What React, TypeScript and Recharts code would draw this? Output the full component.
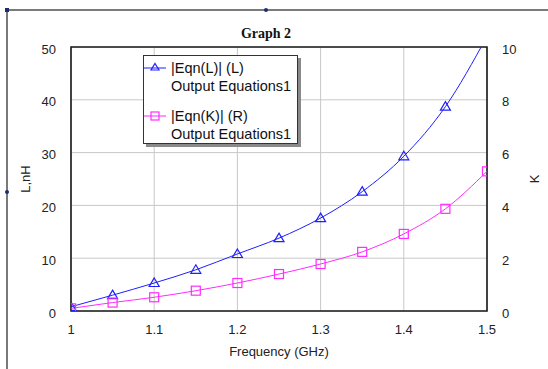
import React from 'react';
import {
  LineChart,
  Line,
  XAxis,
  YAxis,
  CartesianGrid,
  Legend,
  Label,
  ReferenceArea,
} from 'recharts';

const frequency = [1, 1.05, 1.1, 1.15, 1.2, 1.25, 1.3, 1.35, 1.4, 1.45, 1.5];
const lValues = [0.8, 3.0, 5.3, 7.8, 10.8, 13.8, 17.6, 22.6, 29.3, 38.7, 52.0];
const kValues = [0.1, 0.32, 0.52, 0.77, 1.06, 1.4, 1.78, 2.24, 2.92, 3.87, 5.29];
const xTicks = [1, 1.1, 1.2, 1.3, 1.4, 1.5];
const leftTicks = [0, 10, 20, 30, 40, 50];
const rightTicks = [0, 2, 4, 6, 8, 10];

const BLUE = '#1f1fff';
const MAGENTA = '#ff2bff';
const FONT = '"Liberation Sans", Arial, sans-serif';

const data = frequency.map((f, i) => ({ f, L: lValues[i], K: kValues[i] }));

const Triangle = (props: any) => {
  const { cx, cy } = props;
  if (cx == null || cy == null) return null;
  return (
    <path
      d={`M${cx},${cy - 5}L${cx + 5},${cy + 3.5}L${cx - 5},${cy + 3.5}Z`}
      fill="none"
      stroke={BLUE}
      strokeWidth={1.2}
    />
  );
};

const Square = (props: any) => {
  const { cx, cy } = props;
  if (cx == null || cy == null) return null;
  return (
    <rect x={cx - 4.5} y={cy - 4.5} width={9} height={9} fill="none" stroke={MAGENTA} strokeWidth={1.2} />
  );
};

const LegendBox = () => (
  <div
    style={{
      width: 155,
      height: 89,
      boxSizing: 'border-box',
      border: '1px solid #333',
      background: '#fff',
      boxShadow: '3px 3px 0 #8a8a8a',
      fontFamily: FONT,
      fontSize: 14.5,
      color: '#111',
      position: 'relative',
    }}
  >
    {[
      { name: '|Eqn(L)| (L)', color: BLUE, top: 3, icon: 'tri' },
      { name: '|Eqn(K)| (R)', color: MAGENTA, top: 51, icon: 'sq' },
    ].map((e) => (
      <div key={e.name} style={{ position: 'absolute', left: 0, top: e.top }}>
        <svg width={24} height={18} style={{ position: 'absolute', left: 0, top: 0 }}>
          <line x1={0} y1={9} x2={22} y2={9} stroke={e.color} strokeWidth={1} />
          {e.icon === 'tri' ? (
            <path d="M11,4.5L15,11L7,11Z" fill="none" stroke={e.color} strokeWidth={1.2} />
          ) : (
            <rect x={7} y={5} width={8} height={8} fill="none" stroke={e.color} strokeWidth={1.2} />
          )}
        </svg>
        <div style={{ position: 'absolute', left: 27, top: 0, whiteSpace: 'nowrap', lineHeight: '18px' }}>
          {e.name}
        </div>
        <div style={{ position: 'absolute', left: 27, top: 18, whiteSpace: 'nowrap', lineHeight: '18px' }}>
          Output Equations1
        </div>
      </div>
    ))}
  </div>
);

const tickStyle = { fontFamily: FONT, fontSize: 13, fill: '#222' };
const labelStyle = { fontFamily: FONT, fontSize: 13, fill: '#222' };

const App = () => {
  return (
    <div style={{ position: 'absolute', left: 0, top: 0, width: 548, height: 369, background: '#fff' }}>
      <div style={{ position: 'absolute', left: 6, top: 9, width: 542, height: 2, background: '#7a7a7a' }} />
      <div style={{ position: 'absolute', left: 6, top: 9, width: 2, height: 360, background: '#7a7a7a' }} />
      <div style={{ position: 'absolute', left: 5, top: 8, width: 4, height: 4, background: '#1c2d6e' }} />
      <div style={{ position: 'absolute', left: 264, top: 8, width: 4, height: 4, borderRadius: 2, background: '#1c2d6e' }} />
      <div style={{ position: 'absolute', left: 5, top: 190, width: 4, height: 4, borderRadius: 2, background: '#1c2d6e' }} />
      <div
        style={{
          position: 'absolute',
          left: 0,
          width: 532,
          top: 25,
          textAlign: 'center',
          fontFamily: '"Liberation Serif", "Times New Roman", serif',
          fontWeight: 'bold',
          fontSize: 14,
          lineHeight: '18px',
          color: '#111',
        }}
      >
        Graph 2
      </div>
      <LineChart
        width={548}
        height={369}
        data={data}
        margin={{ top: 47, right: 0, left: 0, bottom: 0 }}
        style={{ position: 'absolute', left: 0, top: 0 }}
      >
        <CartesianGrid stroke="#c8c8c8" strokeWidth={1} yAxisId="left" />
        <XAxis
          dataKey="f"
          type="number"
          domain={[1, 1.5]}
          ticks={xTicks}
          allowDataOverflow
          height={58}
          tickLine={false}
          axisLine={false}
          tickSize={12}
          tick={tickStyle}
          tickFormatter={(v: number) => String(v)}
        >
          <Label value="Frequency (GHz)" position="center" dy={11} style={labelStyle} />
        </XAxis>
        <YAxis
          yAxisId="left"
          type="number"
          domain={[0, 50]}
          ticks={leftTicks}
          allowDataOverflow
          width={71}
          tickLine={false}
          axisLine={false}
          tickSize={13}
          tick={{ ...tickStyle, dy: 2 }}
        >
          <Label value="L,nH" angle={-90} position="center" dx={-10} style={labelStyle} />
        </YAxis>
        <YAxis
          yAxisId="right"
          orientation="right"
          type="number"
          domain={[0, 10]}
          ticks={rightTicks}
          allowDataOverflow
          width={61}
          tickLine={false}
          axisLine={false}
          tickSize={13}
          tick={{ ...tickStyle, dy: 2 }}
        >
          <Label value="K" angle={-90} position="center" dx={17} style={labelStyle} />
        </YAxis>
        <ReferenceArea
          yAxisId="left"
          x1={1}
          x2={1.5}
          y1={0}
          y2={50}
          fill="none"
          stroke="#1a1a1a"
          strokeWidth={1.6}
        />
        <Line
          yAxisId="left"
          dataKey="L"
          type="monotone"
          stroke={BLUE}
          strokeWidth={1}
          dot={<Triangle />}
          activeDot={false}
          isAnimationActive={false}
        />
        <Line
          yAxisId="right"
          dataKey="K"
          type="monotone"
          stroke={MAGENTA}
          strokeWidth={1}
          dot={<Square />}
          activeDot={false}
          isAnimationActive={false}
        />
        <Legend
          layout="vertical"
          align="center"
          verticalAlign="middle"
          content={<LegendBox />}
          wrapperStyle={{ left: 143, top: 55, width: 158, height: 92 }}
        />
      </LineChart>
    </div>
  );
};

export default App;
